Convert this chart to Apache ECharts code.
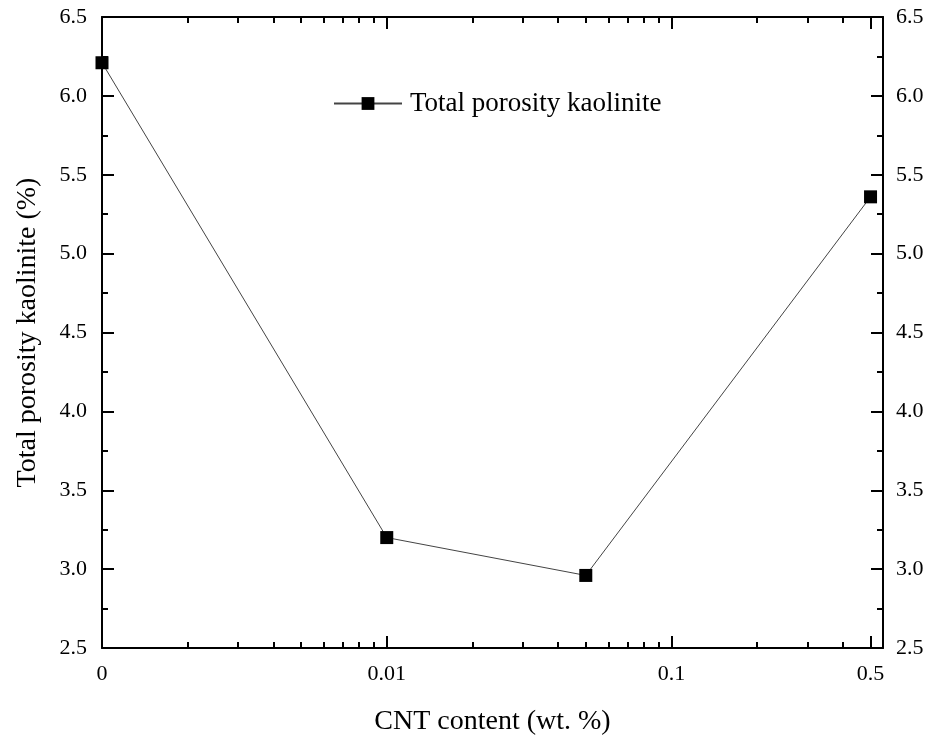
<!DOCTYPE html>
<html>
<head>
<meta charset="utf-8">
<script src="https://cdn.jsdelivr.net/npm/echarts@6/dist/echarts.min.js"></script>
<style>
  html, body { margin: 0; padding: 0; background: #fff; }
  #chart { width: 930px; height: 738px; }
</style>
</head>
<body>
<div id="chart"></div>
<script>
// data
var cntContent = [0, 0.01, 0.05, 0.5];          // wt. %
var porosity = [6.21, 3.20, 2.96, 5.36];         // %
var zeroOnLog = 0.001;                           // where "0" sits on the log axis

var xTickValues = [0.001, 0.01, 0.1, 0.5];
var xTickLabels = ['0', '0.01', '0.1', '0.5'];
var xMinorTicks = [0.002, 0.003, 0.004, 0.005, 0.006, 0.007, 0.008, 0.009,
  0.02, 0.03, 0.04, 0.05, 0.06, 0.07, 0.08, 0.09, 0.2, 0.3, 0.4];

var font = 'Liberation Serif';
var black = '#000';

var myChart = echarts.init(document.getElementById('chart'));

var points = cntContent.map(function (x, i) {
  return [x === 0 ? zeroOnLog : x, porosity[i]];
});

function xLabel(v) {
  for (var i = 0; i < xTickValues.length; i++) {
    if (Math.abs(Math.log10(v) - Math.log10(xTickValues[i])) < 1e-6) return xTickLabels[i];
  }
  return '';
}

function logAxis(pos, major, labels) {
  return {
    type: 'log',
    logBase: 10,
    position: pos,
    min: 0.001,
    max: 0.553,
    axisLine: { show: major, lineStyle: { color: black, width: 2 } },
    axisTick: {
      show: true, inside: true, length: major ? 12 : 6,
      customValues: major ? xTickValues : xMinorTicks,
      lineStyle: { color: black, width: 2 }
    },
    axisLabel: {
      show: labels, customValues: xTickValues, formatter: xLabel,
      color: black, fontFamily: font, fontSize: 22, margin: 15
    },
    splitLine: { show: false },
    minorTick: { show: false },
    minorSplitLine: { show: false }
  };
}

var bottomMajor = logAxis('bottom', true, true);
bottomMajor.name = 'CNT content (wt. %)';
bottomMajor.nameLocation = 'middle';
bottomMajor.nameGap = 60;
bottomMajor.nameTextStyle = { color: black, fontFamily: font, fontSize: 28 };

function valueAxis(pos, withName) {
  var ax = {
    type: 'value',
    position: pos,
    min: 2.5,
    max: 6.5,
    interval: 0.5,
    axisLine: { show: true, lineStyle: { color: black, width: 2 } },
    axisTick: { show: true, inside: true, length: 12, lineStyle: { color: black, width: 2 } },
    minorTick: { show: true, splitNumber: 2, length: 6, lineStyle: { color: black, width: 2 } },
    axisLabel: {
      color: black, fontFamily: font, fontSize: 22, margin: pos === 'left' ? 15 : 13,
      formatter: function (v) { return v.toFixed(1); }
    },
    splitLine: { show: false }
  };
  if (withName) {
    ax.name = 'Total porosity kaolinite (%)';
    ax.nameLocation = 'middle';
    ax.nameGap = 60;
    ax.nameTextStyle = { color: black, fontFamily: font, fontSize: 28 };
  }
  return ax;
}

var option = {
  backgroundColor: '#fff',
  animation: false,
  grid: { left: 102, right: 47, top: 17, bottom: 90, containLabel: false, outerBoundsMode: 'none' },
  legend: {
    data: ['Total porosity kaolinite'],
    left: 328,
    top: 85,
    itemWidth: 68,
    itemHeight: 16,
    itemGap: 10,
    textStyle: { color: black, fontFamily: font, fontSize: 27, padding: [0, 0, 0, 3] }
  },
  xAxis: [
    bottomMajor,
    logAxis('bottom', false, false),
    logAxis('top', true, false),
    logAxis('top', false, false)
  ],
  yAxis: [valueAxis('left', true), valueAxis('right', false)],
  series: [
    {
      name: 'Total porosity kaolinite',
      type: 'line',
      xAxisIndex: 0,
      yAxisIndex: 0,
      data: points,
      symbol: 'rect',
      symbolSize: 13,
      itemStyle: { color: black },
      lineStyle: { color: '#444', width: 1 }
    }
  ]
};

myChart.setOption(option);
</script>
</body>
</html>
